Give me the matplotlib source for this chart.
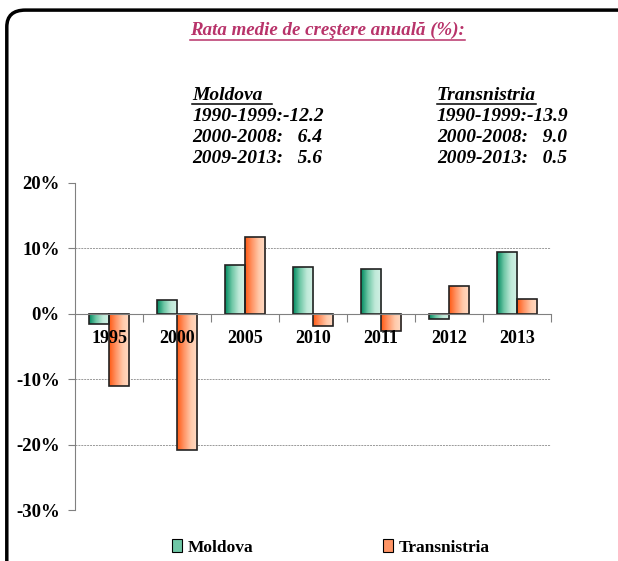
import numpy as np
import matplotlib
matplotlib.use("Agg")
import matplotlib.pyplot as plt
from matplotlib.colors import LinearSegmentedColormap
from matplotlib.patches import FancyBboxPatch, Patch

years = ["1995", "2000", "2005", "2010", "2011", "2012", "2013"]
moldova = [-1.5, 2.1, 7.5, 7.1, 6.8, -0.8, 9.4]
transnistria = [-11.1, -20.9, 11.8, -1.9, -2.7, 4.2, 2.3]

title = "Rata medie de creştere anuală (%):"
mold_lines = ["1990-1999:-12.2", "2000-2008:   6.4", "2009-2013:   5.6"]
tran_lines = ["1990-1999:-13.9", "2000-2008:   9.0", "2009-2013:   0.5"]

SERIF = "Liberation Serif"
green_cm = LinearSegmentedColormap.from_list("g", ["#008A60", "#6FC7A6", "#BFE9D8", "#D3F2E6"])
orange_cm = LinearSegmentedColormap.from_list("o", ["#FF5A14", "#FF9566", "#FFC9AA", "#FFDCC6"])

fig = plt.figure(figsize=(6.18, 5.61), dpi=100)
ax = fig.add_axes([0.1214, 0.0909, 0.7702, 0.5829])

x = np.arange(len(years))
w = 0.295
b1 = ax.bar(x - w / 2, moldova, w, facecolor="none", edgecolor="#222222", linewidth=1.2, zorder=3)
b2 = ax.bar(x + w / 2, transnistria, w, facecolor="none", edgecolor="#222222", linewidth=1.2, zorder=3)

# gradient fill, dark on the left
grad = np.linspace(0, 1, 64).reshape(1, -1)
for bars, cm in ((b1, green_cm), (b2, orange_cm)):
    for r in bars:
        x0, y0 = r.get_x(), r.get_y()
        im = ax.imshow(grad, cmap=cm, aspect="auto", zorder=2,
                       extent=[x0, x0 + r.get_width(), y0, y0 + r.get_height()])
        im.set_clip_path(r)

ax.set_xlim(-0.5, len(years) - 0.5)
ax.set_ylim(-30, 20)

# y axis
ax.set_yticks([20, 10, 0, -10, -20, -30])
ax.set_yticklabels(["20%", "10%", "0%", "-10%", "-20%", "-30%"])
for v in [10, -10, -20]:
    ax.axhline(v, color="#999999", linestyle=(0, (2, 1)), linewidth=0.7, zorder=1)
ax.tick_params(axis="y", direction="out", length=5, color="#808080", pad=6, labelsize=13.5)
for lab in ax.get_yticklabels():
    lab.set_fontfamily(SERIF)
    lab.set_fontweight("bold")

# x axis at zero
ax.spines["top"].set_visible(False)
ax.spines["right"].set_visible(False)
ax.spines["bottom"].set_position(("data", 0))
ax.spines["bottom"].set_color("#808080")
ax.spines["left"].set_color("#808080")
ax.spines["bottom"].set_zorder(4)
ax.set_xticks(np.arange(0.5, len(years), 1.0))
ax.set_xticklabels([])
ax.tick_params(axis="x", direction="out", length=6, color="#808080")
for i, yr in enumerate(years):
    ax.annotate(yr, xy=(i, 0), xytext=(0, -11.5), textcoords="offset points",
                ha="center", va="top", fontsize=13, fontfamily=SERIF,
                fontweight="bold", zorder=6)
ax.set_facecolor("none")

# title and annotations
fig.canvas.draw()
rend = fig.canvas.get_renderer()


def underline(txt, y, color, lw=1.1):
    bb = txt.get_window_extent(rend).transformed(fig.transFigure.inverted())
    fig.add_artist(plt.Line2D([bb.x0, bb.x1], [y, y], color=color, linewidth=lw))


tcol = "#B8336A"
t = fig.text(0.53, 0.946, title, ha="center", va="center", color=tcol,
             fontsize=13.6, fontfamily=SERIF, fontweight="bold", fontstyle="italic")
underline(t, 0.929, tcol)

for xs, head, lines in ((0.311, "Moldova  ", mold_lines),
                        (0.707, "Transnistria", tran_lines)):
    h = fig.text(xs, 0.829, head, ha="left", va="center", fontsize=14,
                 fontfamily=SERIF, fontweight="bold", fontstyle="italic")
    underline(h, 0.814, "black")
    for i, s in enumerate(lines):
        fig.text(xs, 0.793 - i * 0.0375, s, ha="left", va="center", fontsize=14,
                 fontfamily=SERIF, fontweight="bold", fontstyle="italic")

# legend
handles = [Patch(facecolor="#6FC7A6", edgecolor="black", linewidth=0.8),
           Patch(facecolor="#FF9566", edgecolor="black", linewidth=0.8)]
fig.legend(handles, ["Moldova", "Transnistria"], loc="center", bbox_to_anchor=(0.535, 0.024),
           ncol=2, frameon=False, handlelength=0.6, handleheight=0.7, handletextpad=0.3,
           columnspacing=7.5, prop={"family": SERIF, "weight": "bold", "size": 12.5})

# outer frame
frame = FancyBboxPatch((0.011, -0.2), 1.2, 1.182, boxstyle="round,pad=0,rounding_size=0.03",
                       transform=fig.transFigure, facecolor="none", edgecolor="black",
                       linewidth=2.5, clip_on=False)
fig.add_artist(frame)

fig.savefig("out.png", dpi=100)
